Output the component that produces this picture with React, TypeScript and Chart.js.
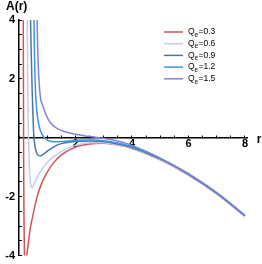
import React, { useEffect, useRef } from "react";
import { Chart, registerables } from "chart.js";

Chart.register(...registerables);

// Q_e = 0.3
const rQ03 = [0.14, 0.15, 0.158, 0.165, 0.175, 0.19, 0.215, 0.245, 0.27, 0.3, 0.35, 0.4, 0.5, 0.6, 0.7, 0.8, 1.0, 1.2, 1.5, 2.0, 2.5, 3.0, 3.5, 4.0, 5.0, 6.0, 7.0, 8.0];
const aQ03 = [6, 4.2, 1.5, -0.8, -2.6, -3.8, -4.4, -4.3, -4.05, -3.8, -3.42, -3.08, -2.6, -2.16, -1.82, -1.55, -1.17, -0.88, -0.58, -0.32, -0.21, -0.19, -0.25, -0.37, -0.75, -1.27, -1.91, -2.67];

// Q_e = 0.6
const rQ06 = [0.28, 0.29, 0.3, 0.31, 0.32, 0.335, 0.35, 0.37, 0.39, 0.42, 0.45, 0.48, 0.52, 0.58, 0.65, 0.75, 0.87, 1.0, 1.2, 1.5, 2.0, 2.5, 3.0, 3.5, 4.0, 5.0, 6.0, 7.0, 8.0];
const aQ06 = [6, 4.2, 3.0, 1.9, 1.0, 0.0, -0.55, -1.05, -1.38, -1.62, -1.7, -1.68, -1.6, -1.47, -1.33, -1.16, -0.99, -0.84, -0.66, -0.46, -0.26, -0.17, -0.17, -0.24, -0.36, -0.74, -1.26, -1.9, -2.66];

// Q_e = 0.9
const rQ09 = [0.395, 0.41, 0.43, 0.45, 0.47, 0.49, 0.52, 0.56, 0.61, 0.67, 0.74, 0.82, 0.9, 1.0, 1.15, 1.33, 1.5, 1.7, 2.0, 2.5, 3.0, 3.5, 4.0, 5.0, 6.0, 7.0, 8.0];
const aQ09 = [5.5, 4.0, 3.0, 2.2, 1.5, 0.9, 0.15, -0.25, -0.48, -0.59, -0.62, -0.59, -0.53, -0.46, -0.36, -0.26, -0.2, -0.16, -0.13, -0.11, -0.13, -0.21, -0.33, -0.72, -1.24, -1.88, -2.65];

// Q_e = 1.2
const rQ12 = [0.515, 0.53, 0.545, 0.56, 0.58, 0.61, 0.65, 0.7, 0.76, 0.83, 0.9, 1.0, 1.15, 1.3, 1.5, 1.8, 2.2, 2.6, 3.0, 3.5, 4.0, 5.0, 6.0, 7.0, 8.0];
const aQ12 = [5.5, 4.0, 3.0, 2.3, 1.65, 1.15, 0.75, 0.45, 0.24, 0.1, 0.0, -0.08, -0.13, -0.14, -0.13, -0.1, -0.08, -0.08, -0.1, -0.18, -0.3, -0.7, -1.23, -1.87, -2.64];

// Q_e = 1.5
const rQ15 = [0.625, 0.64, 0.66, 0.68, 0.7, 0.73, 0.77, 0.82, 0.88, 0.95, 1.05, 1.2, 1.4, 1.6, 1.8, 2.0, 2.3, 2.6, 3.0, 3.5, 4.0, 5.0, 6.0, 7.0, 8.0];
const aQ15 = [4.8, 4.0, 3.1, 2.5, 2.05, 1.65, 1.3, 1.15, 0.98, 0.8, 0.6, 0.42, 0.29, 0.21, 0.16, 0.12, 0.07, 0.03, -0.02, -0.11, -0.26, -0.69, -1.22, -1.86, -2.63];

const seriesQ = ["0.3", "0.6", "0.9", "1.2", "1.5"];
const seriesColors = ["#d65252", "#c3cdeb", "#4a78a6", "#3c96e6", "#8282d6"];
const xTickLabels = [2, 4, 6, 8];
const yTickLabels = [-4, -2, 2, 4];

const FONT = "'Liberation Sans', Arial, Helvetica, sans-serif";

export default function App() {
  const ref = useRef<HTMLCanvasElement>(null);

  useEffect(() => {
    if (!ref.current) return;
    const rs = [rQ03, rQ06, rQ09, rQ12, rQ15];
    const as = [aQ03, aQ06, aQ09, aQ12, aQ15];

    const annot = {
      id: "annot",
      afterDraw(chart: any) {
        const ctx = chart.ctx;
        const xs = chart.scales.x;
        const ys = chart.scales.y;
        ctx.save();
        ctx.fillStyle = "#000";
        ctx.font = `bold 12px ${FONT}`;
        ctx.textAlign = "left";
        ctx.textBaseline = "alphabetic";
        ctx.fillText("A(r)", 6, 10);
        ctx.fillText("r", xs.right + 9, ys.getPixelForValue(0) + 5);

        const x0 = 164, x1 = 183, tx = 188, y0 = 32, dy = 11.7;
        seriesQ.forEach((q, i) => {
          const y = y0 + i * dy;
          ctx.strokeStyle = seriesColors[i];
          ctx.lineWidth = 1.5;
          ctx.beginPath();
          ctx.moveTo(x0, y);
          ctx.lineTo(x1, y);
          ctx.stroke();
          ctx.fillStyle = "#000";
          ctx.textBaseline = "middle";
          ctx.font = `8.5px ${FONT}`;
          ctx.fillText("Q", tx, y);
          let w = ctx.measureText("Q").width;
          ctx.font = `6.5px ${FONT}`;
          ctx.fillText("e", tx + w, y + 3);
          w += ctx.measureText("e").width;
          ctx.font = `8.5px ${FONT}`;
          ctx.fillText("=" + q, tx + w + 0.3, y);
        });
        ctx.restore();
      },
    };

    const tickFont = { family: FONT, size: 11, weight: "bold" as const };

    const chart = new Chart(ref.current, {
      type: "scatter",
      data: {
        datasets: rs.map((r, i) => ({
          label: "Qe=" + seriesQ[i],
          data: r.map((x, j) => ({ x, y: as[i][j] })),
          showLine: true,
          borderColor: seriesColors[i],
          backgroundColor: seriesColors[i],
          borderWidth: 1.5,
          pointRadius: 0,
          cubicInterpolationMode: "monotone" as const,
          order: 5 - i,
        })),
      },
      options: {
        animation: false,
        responsive: true,
        maintainAspectRatio: false,
        events: [],
        layout: { padding: { left: 0, top: 20, right: 14.2, bottom: 8.5 } },
        plugins: { legend: { display: false }, tooltip: { enabled: false } },
        scales: {
          x: {
            type: "linear",
            min: 0,
            max: 8.1,
            position: { y: 0 } as any,
            afterFit: (scale: any) => {
              scale.height = 0;
              scale.paddingLeft = 0;
              scale.paddingRight = 0;
            },
            border: { display: true, color: "#000", width: 1.5 },
            grid: { display: true, drawOnChartArea: false, drawTicks: true, tickLength: -3, tickColor: "#000", tickWidth: 1 },
            ticks: {
              stepSize: 0.5,
              autoSkip: false,
              includeBounds: false,
              maxRotation: 0,
              padding: 2.5,
              color: "#000",
              font: tickFont,
              callback: (v: any) => (xTickLabels.includes(Number(v)) ? String(v) : ""),
            },
          },
          y: {
            type: "linear",
            min: -4,
            max: 4,
            position: "left",
            afterFit: (scale: any) => {
              scale.width = 19;
              scale.paddingTop = 0;
              scale.paddingBottom = 0;
            },
            border: { display: true, color: "#000", width: 1.5 },
            grid: { display: true, drawOnChartArea: false, drawTicks: true, tickLength: -3, tickColor: "#000", tickWidth: 1 },
            ticks: {
              stepSize: 0.5,
              autoSkip: false,
              includeBounds: false,
              padding: 7,
              color: "#000",
              font: tickFont,
              callback: (v: any) => (yTickLabels.includes(Number(v)) ? String(v) : ""),
            },
          },
        },
      },
      plugins: [annot],
    });
    return () => chart.destroy();
  }, []);

  return (
    <div style={{ position: "fixed", left: 0, top: 0, width: 262, height: 264 }}>
      <canvas ref={ref} />
    </div>
  );
}
